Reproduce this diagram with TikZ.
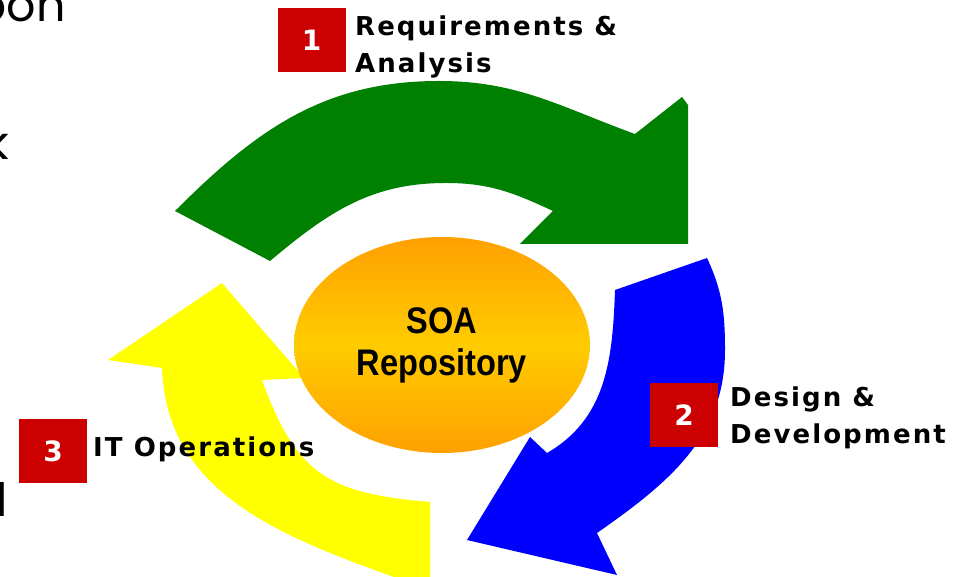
\documentclass[tikz,border=0pt]{standalone}
\usepackage{fontspec}
\usetikzlibrary{shapes.geometric}
\newfontfamily\labelfont[LetterSpace=8]{DejaVu Sans}
\newfontfamily\repofont[FakeStretch=0.88]{Liberation Sans}
\newfontfamily\slidefont{Poppins}
\definecolor{phasered}{RGB}{204,0,0}
\definecolor{phasegreen}{RGB}{0,128,0}
\definecolor{phaseblue}{RGB}{0,0,255}
\definecolor{phaseyellow}{RGB}{255,255,0}
\definecolor{repoorange}{RGB}{255,160,0}
\definecolor{repogold}{RGB}{255,204,0}
\tikzset{
  numbox/.style={fill=phasered,text=white,minimum width=68pt,minimum height=64pt,
    inner sep=0pt,font=\labelfont\bfseries\fontsize{28}{28}\selectfont},
  phaselabel/.style={anchor=north west,align=left,inner sep=0pt,
    font=\labelfont\bfseries\fontsize{26}{37}\selectfont},
  slidetext/.style={anchor=base east,inner sep=0pt,
    font=\slidefont\fontsize{46}{46}\selectfont}
}
\begin{document}
\begin{tikzpicture}[x=1pt,y=1pt]
      \useasboundingbox (0,0) rectangle (966,577);
      \fill[phasegreen] (175,366) to [out=45,in=180] (439,496)
      to [out=0,in=160] (635,443)
      -- (682,480) -- (688,472) -- (688,333) -- (520,333) -- (553,366)
      to [out=155,in=0] (446,394)
      to [out=180,in=40] (270,316) -- cycle;
      \fill[phaseblue] (615,287) -- (707,319)
      to [out=-65,in=90] (725,227)
      to [out=-90,in=35] (597,44)
      -- (617,2) -- (467,37) -- (530,140) -- (547,124)
      to [out=30,in=-92] (615,287) -- cycle;
      \fill[phaseyellow] (430,-13) -- (430,75)
      to [out=175,in=-70,looseness=1.25] (262,197)
      -- (304,199) -- (222,294) -- (108,217) -- (162,209)
      to [out=-88,in=160] (430,-13) -- cycle;
      \node[ellipse,minimum width=296pt,minimum height=216pt,
        top color=repoorange,bottom color=repoorange,middle color=repogold,
        align=center,font=\repofont\bfseries\fontsize{37}{42}\selectfont]
        (repo) at (442,232) {SOA\\Repository};
      \node[numbox] (n1) at (311.5,536.5) {1};
      \node[numbox] (n2) at (684,162) {2};
      \node[numbox] (n3) at (53,126) {3};
      \node[phaselabel] (req) at (355,561) {Requirements \&\\Analysis};
      \node[phaselabel] (dev) at (730,190) {Design \&\\Development};
      \node[phaselabel] (ops) at (93,140) {IT Operations};
      \node[slidetext] (frag1) at (66,555) {pon};
      \node[slidetext] (frag2) at (9,417) {k};
      \node[slidetext] (frag3) at (8,60) {l};
    \end{tikzpicture}
\end{document}
